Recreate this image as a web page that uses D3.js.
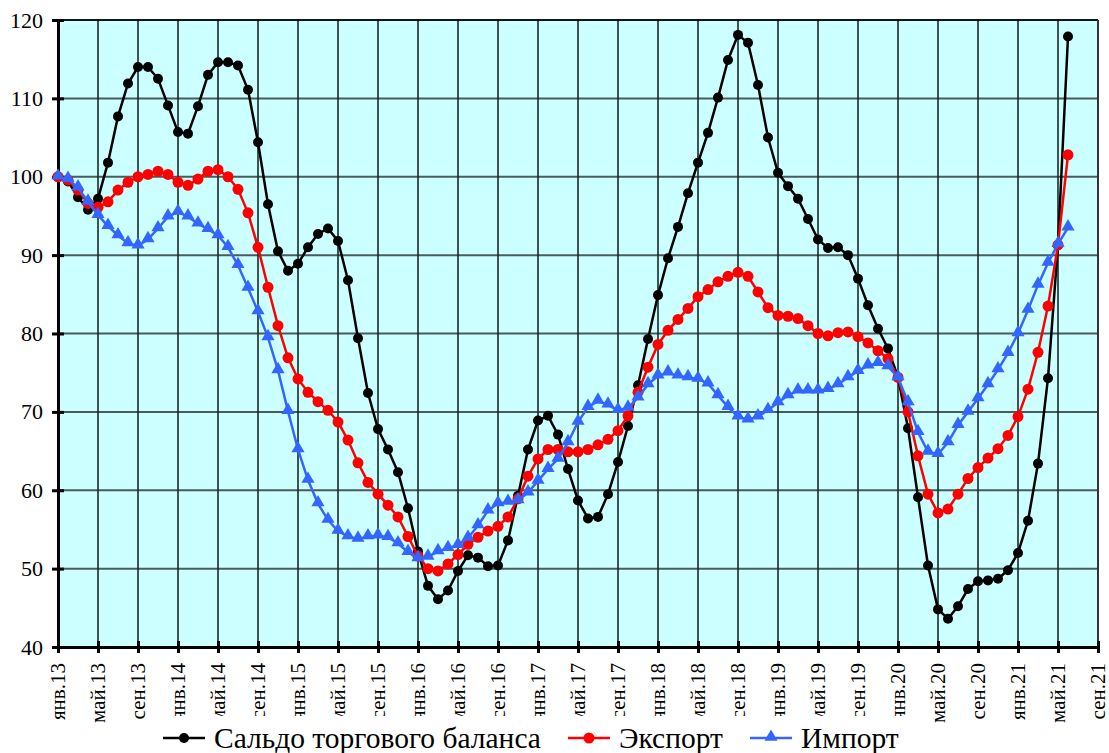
<!DOCTYPE html>
<html>
<head>
<meta charset="utf-8">
<script src="https://cdn.jsdelivr.net/npm/d3@7"></script>
<style>
  body { margin: 0; background: #fff; }
  text { font-family: "Liberation Serif", "Times New Roman", serif; }
</style>
</head>
<body>
<svg id="chart" width="1109" height="753"></svg>
<script>
// month index 0 = янв.13
const tickLabels = ['янв.13','май.13','сен.13','янв.14','май.14','сен.14','янв.15','май.15','сен.15',
  'янв.16','май.16','сен.16','янв.17','май.17','сен.17','янв.18','май.18','сен.18',
  'янв.19','май.19','сен.19','янв.20','май.20','сен.20','янв.21','май.21','сен.21'];

const saldo = [100, 99.4, 97.4, 95.8, 97.2, 101.8, 107.7, 111.9, 114.0, 114.0,
  112.5, 109.1, 105.7, 105.5, 109.0, 113.0, 114.6, 114.6, 114.2, 111.1,
  104.4, 96.5, 90.5, 88.0, 88.9, 91.0, 92.7, 93.4, 91.8, 86.8,
  79.4, 72.4, 67.8, 65.2, 62.3, 57.7, 52.2, 47.8, 46.1, 47.2,
  49.7, 51.7, 51.4, 50.3, 50.4, 53.6, 59.3, 65.2, 68.9, 69.5,
  67.1, 62.7, 58.7, 56.4, 56.6, 59.5, 63.6, 68.2, 73.4, 79.3,
  84.9, 89.6, 93.6, 97.9, 101.8, 105.6, 110.1, 114.9, 118.1, 117.1,
  111.7, 105.0, 100.5, 98.8, 97.2, 94.6, 92.0, 90.9, 91.0, 90.0,
  87.0, 83.6, 80.6, 78.1, 74.4, 67.9, 59.1, 50.4, 44.8, 43.6,
  45.2, 47.4, 48.4, 48.5, 48.7, 49.8, 52.0, 56.1, 63.4, 74.3,
  91.3, 117.9];

const exportVals = [100, 99.6, 98.3, 96.6, 96.1, 96.8, 98.3, 99.3, 100.0, 100.3,
  100.7, 100.3, 99.3, 98.9, 99.7, 100.7, 100.9, 100.0, 98.4, 95.4,
  91.0, 85.9, 81.0, 76.9, 74.2, 72.5, 71.3, 70.2, 68.7, 66.4,
  63.5, 61.0, 59.5, 58.1, 56.6, 54.1, 51.6, 50.0, 49.7, 50.6,
  51.8, 53.1, 54.0, 54.8, 55.4, 56.6, 58.9, 61.8, 64.0, 65.2,
  65.2, 64.9, 64.9, 65.2, 65.8, 66.5, 67.6, 69.5, 72.5, 75.7,
  78.6, 80.4, 81.8, 83.2, 84.7, 85.6, 86.6, 87.3, 87.8, 87.3,
  85.3, 83.3, 82.3, 82.2, 81.9, 81.0, 80.0, 79.7, 80.1, 80.2,
  79.6, 78.8, 77.8, 76.8, 74.4, 70.0, 64.4, 59.5, 57.1, 57.6,
  59.5, 61.5, 62.9, 64.1, 65.3, 67.0, 69.4, 72.9, 77.6, 83.5,
  91.3, 102.8];

const importVals = [100, 99.7, 98.6, 96.8, 95.1, 93.7, 92.5, 91.5, 91.2, 92.0,
  93.4, 94.9, 95.5, 94.9, 94.0, 93.3, 92.5, 91.0, 88.7, 85.8,
  82.8, 79.5, 75.3, 70.1, 65.2, 61.3, 58.3, 56.2, 54.8, 54.1,
  53.8, 54.1, 54.2, 54.0, 53.2, 52.1, 51.3, 51.5, 52.2, 52.6,
  53.0, 53.9, 55.5, 57.4, 58.3, 58.5, 58.7, 59.7, 61.2, 62.7,
  64.0, 66.1, 68.7, 70.6, 71.4, 70.9, 70.2, 70.5, 71.8, 73.5,
  74.6, 75.0, 74.6, 74.4, 74.2, 73.6, 72.1, 70.6, 69.4, 69.0,
  69.4, 70.2, 71.2, 72.1, 72.7, 72.7, 72.7, 72.9, 73.5, 74.4,
  75.2, 75.9, 76.2, 75.8, 74.4, 71.2, 67.4, 64.9, 64.6, 66.1,
  68.3, 70.0, 71.7, 73.5, 75.4, 77.5, 80.0, 83.0, 86.2, 89.0,
  91.4, 93.5];

const seriesNames = ['Сальдо торгового баланса', 'Экспорт', 'Импорт'];
const seriesColors = ['#000000', '#ff0000', '#3366ff'];
const yTicks = [40, 50, 60, 70, 80, 90, 100, 110, 120];

let svg = d3.select('#chart');
let plotLeft = 58, plotRight = 1098, plotTop = 20, plotBottom = 647;

let x = d3.scaleLinear().domain([0, 104]).range([plotLeft, plotRight]);
let y = d3.scaleLinear().domain([40, 120]).range([plotBottom, plotTop]);

// plot background
svg.append('rect')
    .attr('x', plotLeft).attr('y', plotTop)
    .attr('width', plotRight - plotLeft).attr('height', plotBottom - plotTop)
    .attr('fill', '#ccffff');

// grid lines
let grid = svg.append('g');
grid.selectAll('line.h')
    .data(yTicks.slice(1))
    .enter().append('line')
    .attr('x1', plotLeft).attr('x2', plotRight)
    .attr('y1', d => y(d)).attr('y2', d => y(d))
    .attr('stroke', '#4a5a5a').attr('stroke-width', 2);
grid.selectAll('line.v')
    .data(d3.range(4, 105, 4))
    .enter().append('line')
    .attr('x1', d => x(d)).attr('x2', d => x(d))
    .attr('y1', plotTop).attr('y2', plotBottom)
    .attr('stroke', '#1a2a2a').attr('stroke-width', 1.6);

// frame
svg.append('line').attr('x1', plotLeft).attr('x2', plotRight).attr('y1', plotTop).attr('y2', plotTop)
    .attr('stroke', '#000').attr('stroke-width', 1.5);
svg.append('line').attr('x1', plotRight).attr('x2', plotRight).attr('y1', plotTop).attr('y2', plotBottom)
    .attr('stroke', '#333').attr('stroke-width', 2);

// axes
let yAxis = d3.axisLeft(y).tickValues(yTicks).tickSize(6).tickPadding(10);
let yg = svg.append('g').attr('transform', 'translate(' + plotLeft + ',0)').call(yAxis)
    .attr('font-family', 'Liberation Serif').attr('font-size', 22);
yg.select('.domain').attr('stroke', '#000').attr('stroke-width', 3);
yg.selectAll('.tick line').attr('stroke-width', 3).attr('x2', 6).attr('x1', -6);
yg.selectAll('.tick text')
    .attr('x', -15)
    .attr('fill', '#000');

let xAxis = d3.axisBottom(x)
    .tickValues(d3.range(0, 105, 4))
    .tickFormat((d, i) => tickLabels[i])
    .tickSize(6);
let xg = svg.append('g').attr('transform', 'translate(0,' + plotBottom + ')').call(xAxis)
    .attr('font-family', 'Liberation Serif').attr('font-size', 21);
xg.select('.domain').attr('stroke', '#000').attr('stroke-width', 3);
xg.selectAll('.tick line').attr('stroke-width', 3).attr('y1', -6).attr('y2', 6);
xg.selectAll('.tick text')
    .attr('transform', 'rotate(-90)')
    .attr('x', -16).attr('y', 0).attr('dy', '0.3em')
    .attr('text-anchor', 'end')
    .attr('fill', '#000');

// series
let allSeries = [saldo, exportVals, importVals];
let line = d3.line().x((d, i) => x(i)).y(d => y(d));

allSeries.forEach(function(vals, k) {
    let g = svg.append('g');
    g.append('path')
        .datum(vals)
        .attr('d', line)
        .attr('fill', 'none')
        .attr('stroke', seriesColors[k])
        .attr('stroke-width', 2.5);
    if (k < 2) {
        g.selectAll('circle')
            .data(vals)
            .enter().append('circle')
            .attr('cx', (d, i) => x(i))
            .attr('cy', d => y(d))
            .attr('r', k == 0 ? 5 : 5.5)
            .attr('fill', seriesColors[k]);
    } else {
        g.selectAll('path.m')
            .data(vals)
            .enter().append('path')
            .attr('d', d3.symbol().type(d3.symbolTriangle).size(75))
            .attr('transform', (d, i) => 'translate(' + x(i) + ',' + (y(d) - 1) + ')')
            .attr('fill', seriesColors[k]);
    }
});

// legend (white box covers part of the labels, as in original)
svg.append('rect')
    .attr('x', 160).attr('y', 716)
    .attr('width', 760).attr('height', 37)
    .attr('fill', '#fff');

let legendX = [163, 568, 750];
let legend = svg.append('g');
seriesNames.forEach(function(name, k) {
    let lx = legendX[k], ly = 738;
    legend.append('line')
        .attr('x1', lx).attr('x2', lx + 42)
        .attr('y1', ly).attr('y2', ly)
        .attr('stroke', seriesColors[k]).attr('stroke-width', 2.5);
    if (k < 2) {
        legend.append('circle').attr('cx', lx + 21).attr('cy', ly)
            .attr('r', k == 0 ? 5 : 5.5).attr('fill', seriesColors[k]);
    } else {
        legend.append('path')
            .attr('d', d3.symbol().type(d3.symbolTriangle).size(75))
            .attr('transform', 'translate(' + (lx + 21) + ',' + (ly - 1) + ')')
            .attr('fill', seriesColors[k]);
    }
    legend.append('text')
        .attr('x', lx + 51).attr('y', 748)
        .attr('font-family', 'Liberation Serif')
        .attr('font-size', 29.5)
        .attr('fill', '#000')
        .text(name);
});
</script>
</body>
</html>
